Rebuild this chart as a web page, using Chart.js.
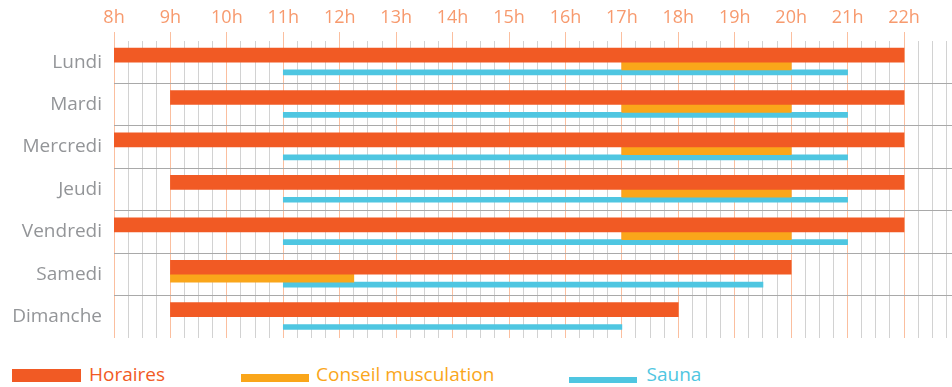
<!DOCTYPE html>
<html>
<head>
<meta charset="utf-8">
<script src="https://cdn.jsdelivr.net/npm/chart.js@4.4.1/dist/chart.umd.min.js"></script>
<style>
html, body { margin: 0; padding: 0; background: #fff; overflow: hidden; }
#wrap { position: relative; width: 952px; height: 338px; }
#legend { position: relative; width: 952px; height: 49px; font-family: "Open Sans", sans-serif; font-size: 19px; line-height: 19px; }
#legend .box { position: absolute; }
#legend .txt { position: absolute; top: 27px; white-space: nowrap; }
</style>
</head>
<body>
<div id="wrap"><canvas id="c"></canvas></div>
<div id="legend"></div>
<script>
// ---- data ----
const days = ['Lundi', 'Mardi', 'Mercredi', 'Jeudi', 'Vendredi', 'Samedi', 'Dimanche'];
const hourValues = [8, 9, 10, 11, 12, 13, 14, 15, 16, 17, 18, 19, 20, 21, 22];
const hourLabels = ['8h', '9h', '10h', '11h', '12h', '13h', '14h', '15h', '16h', '17h', '18h', '19h', '20h', '21h', '22h'];
const horaires = [[8, 22], [9, 22], [8, 22], [9, 22], [8, 22], [9, 20], [9, 18]];
const conseil = [[17, 20], [17, 20], [17, 20], [17, 20], [17, 20], [9, 12.25], null];
const sauna = [[11, 21], [11, 21], [11, 21], [11, 21], [11, 21], [11, 19.5], [11, 17]];
const seriesNames = ['Horaires', 'Conseil musculation', 'Sauna'];

// ---- styles ----
const colors = ['#F15A24', '#FAA61A', '#4FC6E1'];
const thickness = [14, 8, 5];
const bandFrac = [0.332, 0.587, 0.741];
const FONT = "'Open Sans', sans-serif";

const toPoints = arr => arr.map((v, i) => ({ y: i, x: v }));
const seriesData = [horaires, conseil, sauna];
const axisIds = ['yH', 'yC', 'yS'];

const datasets = seriesData.map((arr, k) => ({
  label: seriesNames[k],
  data: toPoints(arr),
  yAxisID: axisIds[k],
  backgroundColor: colors[k],
  borderWidth: 0,
  barThickness: thickness[k],
  grouped: false,
  order: k
}));

const hiddenAxis = k => ({
  type: 'linear',
  display: false,
  reverse: true,
  offset: false,
  bounds: 'data',
  min: -bandFrac[k],
  max: days.length - bandFrac[k],
  grid: { offset: false }
});

const scales = {
  x: {
    type: 'linear',
    position: 'top',
    min: hourValues[0],
    max: 22.85,
    border: { display: false },
    grid: {
      color: ctx => (ctx.tick && Number.isInteger(ctx.tick.value)) ? '#FBBF9F' : '#D2D2D2',
      tickColor: ctx => (ctx.tick && Number.isInteger(ctx.tick.value)) ? '#FBBF9F' : 'rgba(0,0,0,0)',
      tickLength: 9,
      lineWidth: 1
    },
    ticks: {
      stepSize: 0.25,
      includeBounds: false,
      autoSkip: false,
      maxRotation: 0,
      minRotation: 0,
      padding: 3,
      color: '#F79A6E',
      font: { family: FONT, size: 18 },
      callback: v => {
        const idx = hourValues.indexOf(v);
        return idx >= 0 ? hourLabels[idx] : '';
      }
    },
    afterFit: s => { s.height = 41; s.paddingLeft = 0; s.paddingRight = 0; }
  },
  y: {
    type: 'category',
    labels: days,
    offset: true,
    position: 'left',
    border: { display: false },
    grid: {
      offset: true,
      drawTicks: false,
      color: ctx => (ctx.index === 0 || ctx.index === days.length) ? 'rgba(0,0,0,0)' : '#A9A9A9',
      lineWidth: 1
    },
    ticks: {
      padding: 12,
      color: '#939598',
      font: { family: FONT, size: 19 }
    },
    afterFit: s => { s.width = 114; s.paddingTop = 0; s.paddingBottom = 0; }
  }
};
axisIds.forEach((id, k) => { scales[id] = hiddenAxis(k); });

new Chart(document.getElementById('c'), {
  type: 'bar',
  data: { labels: days, datasets },
  options: {
    indexAxis: 'y',
    responsive: true,
    maintainAspectRatio: false,
    animation: false,
    layout: { padding: 0 },
    plugins: {
      legend: { display: false },
      tooltip: { enabled: false }
    },
    scales
  }
});

// ---- HTML legend ----
const legendBoxes = [
  { left: 12, top: 31, width: 69, height: 13, textLeft: 89 },
  { left: 241, top: 36, width: 68, height: 8, textLeft: 316 },
  { left: 569, top: 39, width: 68, height: 6, textLeft: 646.5 }
];
const legend = document.getElementById('legend');
seriesNames.forEach((name, k) => {
  const b = legendBoxes[k];
  const box = document.createElement('div');
  box.className = 'box';
  box.style.cssText = `left:${b.left}px;top:${b.top}px;width:${b.width}px;height:${b.height}px;background:${colors[k]};`;
  const t = document.createElement('div');
  t.className = 'txt';
  t.style.left = b.textLeft + 'px';
  t.style.color = colors[k];
  t.textContent = name;
  legend.appendChild(box);
  legend.appendChild(t);
});
</script>
</body>
</html>
